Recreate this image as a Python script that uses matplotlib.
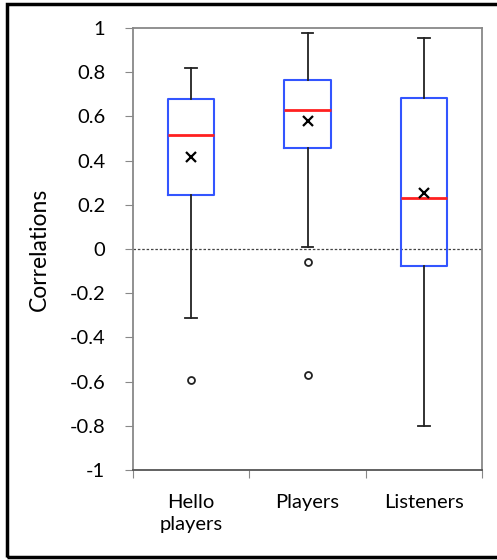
import matplotlib
matplotlib.use("Agg")
import matplotlib.pyplot as plt
from matplotlib.patches import Rectangle

plt.rcParams['font.family'] = ['Lato', 'DejaVu Sans']

# box statistics
groups = ['Hello\nplayers', 'Players', 'Listeners']
whislo = [-0.31, 0.01, -0.80]
q1 = [0.245, 0.455, -0.075]
med = [0.515, 0.63, 0.23]
q3 = [0.68, 0.765, 0.683]
whishi = [0.82, 0.977, 0.955]
means = [0.415, 0.578, 0.255]
fliers = [[-0.595], [-0.058, -0.568], []]

stats = []
for i in range(len(groups)):
    stats.append(dict(label=groups[i], whislo=whislo[i], q1=q1[i], med=med[i],
                      q3=q3[i], whishi=whishi[i], mean=means[i], fliers=fliers[i]))

fig = plt.figure(figsize=(4.97, 5.6), dpi=100)
ax = fig.add_axes([133 / 497, 1 - 470 / 560, 349 / 497, 442 / 560])

positions = [0.5, 1.5, 2.5]
ax.bxp(stats, positions=positions, widths=0.4, capwidths=0.1,
       showmeans=True, patch_artist=False,
       boxprops=dict(color='#3355ff', linewidth=1.5),
       medianprops=dict(color='#ff2020', linewidth=2),
       whiskerprops=dict(color='#222222', linewidth=1.3),
       capprops=dict(color='#222222', linewidth=1.3),
       meanprops=dict(marker='x', markeredgecolor='black', markersize=6.5, markeredgewidth=1.6),
       flierprops=dict(marker='o', markerfacecolor='white', markeredgecolor='#222222',
                       markersize=5, markeredgewidth=1.3))

ax.axhline(0, color='#444444', linestyle=(0, (2, 1.5)), linewidth=0.9, zorder=0)

ax.set_xlim(0, 3)
ax.set_ylim(-1, 1)
ax.set_yticks([-1, -0.8, -0.6, -0.4, -0.2, 0, 0.2, 0.4, 0.6, 0.8, 1])
ax.set_yticklabels(['-1', '-0.8', '-0.6', '-0.4', '-0.2', '0', '0.2', '0.4', '0.6', '0.8', '1'])
ax.set_xticks([0, 1, 2, 3])
ax.set_xticklabels([])
ax.set_xticks(positions, minor=True)
ax.set_xticklabels(groups, minor=True, linespacing=1.4)
ax.tick_params(axis='x', which='minor', length=0, pad=17, labelsize=14.5)
ax.tick_params(axis='x', which='major', length=6, color='#888888', direction='out')
ax.tick_params(axis='y', length=6, color='#888888', labelsize=14.5, pad=14)

for s in ax.spines.values():
    s.set_color('#888888')
    s.set_linewidth(1.3)
ax.spines['bottom'].set_color('#555555')

ax.set_ylabel('Correlations', fontsize=16.5, labelpad=14)

fig.patches.append(Rectangle((7 / 497, 3 / 560), 1.0, 553 / 560, transform=fig.transFigure,
                             fill=False, edgecolor='black', linewidth=2.5))

fig.savefig('out.png', dpi=100)
